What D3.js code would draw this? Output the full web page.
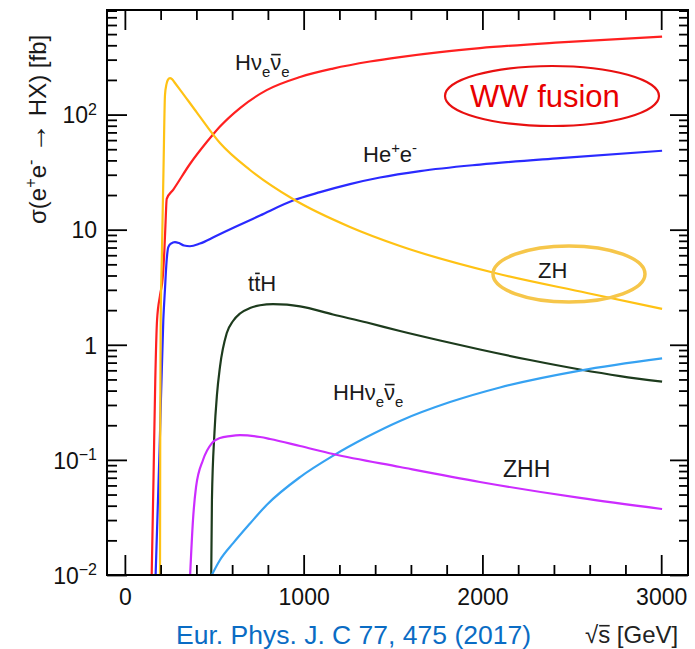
<!DOCTYPE html>
<html>
<head>
<meta charset="utf-8">
<script src="https://cdn.jsdelivr.net/npm/d3@7"></script>
<style>
  body { margin: 0; background: #fff; }
  svg { display: block; }
  text { font-family: "Liberation Sans", Arial, sans-serif; }
</style>
</head>
<body>
<svg id="chart" width="695" height="649"></svg>
<script>
// ---- Cross sections sigma(e+e- -> HX) in fb versus sqrt(s) in GeV ----
const hnnE   = [150, 160, 170, 180, 197, 212, 221, 227, 234, 271, 364, 458, 493, 532, 644, 793, 980, 1164, 1371, 1539, 1763, 1986, 2434, 3005];
const hnnXS  = [0.01, 0.067, 0.49, 1.64, 2.71, 3.88, 6.65, 11.0, 18.5, 22.3, 37.2, 57.7, 67.1, 78.7, 114, 163, 212, 251, 289, 316, 349, 378, 424, 475];

const heeE   = [172, 194, 215, 224, 233, 243, 258, 280, 303, 331, 364, 420, 504, 616, 756, 940, 1092, 1259, 1427, 1651, 1986, 2434, 3005];
const heeXS  = [0.01, 0.122, 1.64, 2.99, 5.24, 7.06, 7.58, 7.81, 7.65, 7.28, 7.18, 7.58, 8.72, 10.55, 13.27, 17.9, 21.2, 24.9, 28.4, 32.3, 36.8, 41.9, 48.5];

const zhE    = [196.5, 197.6, 199.8, 207.6, 216, 224.4, 232.8, 241.2, 252.4, 263.6, 280.4, 308, 403, 532, 700, 940, 1259, 1539, 2070, 2585, 3005];
const zhXS   = [0.01, 0.122, 1.34, 6.65, 33.0, 148, 184, 201, 207.5, 203.5, 188, 165, 104, 56.6, 33.0, 18.45, 10.55, 7.21, 4.20, 2.82, 2.05];

const tthE   = [483, 487, 501, 515, 532, 570, 605, 644, 700, 756, 829, 907, 980, 1164, 1354, 1539, 1763, 1986, 2266, 2546, 2770, 3005];
const tthXS  = [0.01, 0.045, 0.171, 0.366, 0.644, 1.265, 1.61, 1.87, 2.085, 2.206, 2.259, 2.233, 2.158, 1.832, 1.56, 1.317, 1.089, 0.910, 0.737, 0.610, 0.535, 0.478];

const hhnnE  = [486, 532, 607, 700, 793, 980, 1166, 1353, 1539, 1819, 2098, 2546, 3005];
const hhnnXS = [0.01, 0.0135, 0.019, 0.028, 0.0406, 0.0709, 0.109, 0.158, 0.218, 0.318, 0.426, 0.597, 0.762];

const zhhE   = [365, 381, 398, 437, 487, 532, 588, 644, 756, 812, 980, 1165, 1539, 1986, 2546, 3005];
const zhhXS  = [0.01, 0.030, 0.058, 0.0998, 0.140, 0.155, 0.161, 0.164, 0.158, 0.152, 0.132, 0.1125, 0.0867, 0.0643, 0.0467, 0.0374];

// ---- Axis ticks and labels ----
const xMajorTicks = [0, 1000, 2000, 3000];
const xTickLabels = ["0", "1000", "2000", "3000"];
const yMajorTicks = [0.01, 0.1, 1, 10, 100];
const yTickBase   = ["10", "10", "1", "10", "10"];
const yTickExp    = ["\u22122", "\u22121", "", "", "2"];

// ---- Styling ----
const seriesStyle = [
  { e: hnnE,  xs: hnnXS,  color: "#ff2020" },
  { e: heeE,  xs: heeXS,  color: "#2a2aff" },
  { e: zhE,   xs: zhXS,   color: "#ffc214" },
  { e: tthE,  xs: tthXS,  color: "#1d3b1d" },
  { e: hhnnE, xs: hhnnXS, color: "#36a2f2" },
  { e: zhhE,  xs: zhhXS,  color: "#cc2cff" }
];

const svg = d3.select("#chart");
const frame = { l: 107, r: 688, t: 10, b: 575 };

const x = d3.scaleLinear().domain([-100, 3150]).range([frame.l, frame.r]);
const y = d3.scaleLog().domain([0.01, 810]).range([frame.b, frame.t]);

// minor tick positions
const xMinorTicks = d3.range(0, 3001, 200).filter(v => v % 1000 !== 0);
const yMinorTicks = [];
for (let dec = 0.01; dec < 1000; dec *= 10) {
  for (let k = 2; k <= 9; k++) {
    const v = +(dec * k).toPrecision(3);
    if (v <= 810) yMinorTicks.push(v);
  }
}

svg.append("defs").append("clipPath").attr("id", "plotClip")
  .append("rect")
  .attr("x", frame.l).attr("y", frame.t)
  .attr("width", frame.r - frame.l).attr("height", frame.b - frame.t);

// ---- Curves ----
const line = d3.line()
  .x(d => x(d[0]))
  .y(d => y(d[1]))
  .curve(d3.curveMonotoneX);

const curves = svg.append("g").attr("clip-path", "url(#plotClip)");
seriesStyle.forEach(s => {
  const pts = s.e.map((e, i) => [e, s.xs[i]]);
  curves.append("path")
    .datum(pts)
    .attr("d", line)
    .attr("fill", "none")
    .attr("stroke", s.color)
    .attr("stroke-width", 2.2)
    .attr("stroke-linejoin", "round");
});

// ---- Axes ----
function styleAxis(g) {
  g.select(".domain").remove();
  g.selectAll(".tick line").attr("stroke", "#000").attr("stroke-width", 1.8);
  g.selectAll(".tick text").attr("fill", "#111").attr("font-size", 23)
    .attr("font-family", "'Liberation Sans', Arial, sans-serif");
}

svg.append("g").attr("transform", `translate(0,${frame.b})`)
  .call(d3.axisBottom(x).tickValues(xMajorTicks).tickSizeInner(-20).tickSizeOuter(0)
    .tickPadding(14).tickFormat((d, i) => xTickLabels[i]))
  .call(styleAxis);
svg.append("g").attr("transform", `translate(0,${frame.b})`)
  .call(d3.axisBottom(x).tickValues(xMinorTicks).tickSizeInner(-10).tickSizeOuter(0).tickFormat(""))
  .call(styleAxis);
svg.append("g").attr("transform", `translate(0,${frame.t})`)
  .call(d3.axisTop(x).tickValues(xMajorTicks).tickSizeInner(-20).tickSizeOuter(0).tickFormat(""))
  .call(styleAxis);
svg.append("g").attr("transform", `translate(0,${frame.t})`)
  .call(d3.axisTop(x).tickValues(xMinorTicks).tickSizeInner(-10).tickSizeOuter(0).tickFormat(""))
  .call(styleAxis);

const leftMajor = svg.append("g").attr("transform", `translate(${frame.l},0)`)
  .call(d3.axisLeft(y).tickValues(yMajorTicks).tickSizeInner(-20).tickSizeOuter(0)
    .tickPadding(10).tickFormat((d, i) => yTickBase[i]))
  .call(styleAxis);
leftMajor.selectAll(".tick text").each(function(d, i) {
  const t = d3.select(this);
  t.attr("dy", "0.36em");
  if (yTickExp[i]) {
    t.text(null);
    t.append("tspan").text(yTickBase[i]);
    t.append("tspan").attr("font-size", 16).attr("dy", "-0.55em").text(yTickExp[i]);
  }
});
svg.append("g").attr("transform", `translate(${frame.l},0)`)
  .call(d3.axisLeft(y).tickValues(yMinorTicks).tickSizeInner(-10).tickSizeOuter(0).tickFormat(""))
  .call(styleAxis);
svg.append("g").attr("transform", `translate(${frame.r},0)`)
  .call(d3.axisRight(y).tickValues(yMajorTicks).tickSizeInner(-18).tickSizeOuter(0).tickFormat(""))
  .call(styleAxis);
svg.append("g").attr("transform", `translate(${frame.r},0)`)
  .call(d3.axisRight(y).tickValues(yMinorTicks).tickSizeInner(-9).tickSizeOuter(0).tickFormat(""))
  .call(styleAxis);

// frame
svg.append("rect")
  .attr("x", frame.l).attr("y", frame.t)
  .attr("width", frame.r - frame.l).attr("height", frame.b - frame.t)
  .attr("fill", "none").attr("stroke", "#000").attr("stroke-width", 2);

// ---- Rich text helper: subscripts, superscripts and overbars ----
function richText(parent, px, py, size, parts, opts = {}) {
  const t = parent.append("text")
    .attr("x", px).attr("y", py)
    .attr("font-size", size)
    .attr("fill", opts.fill || "#1a1a1a");
  if (opts.transform) t.attr("transform", opts.transform);
  let shift = 0;
  let idx = 0;
  const bars = [];
  parts.forEach(p => {
    let target = 0;
    if (p.sub) target = size * 0.32;
    if (p.sup) target = -size * 0.42;
    const ts = t.append("tspan").text(p.t);
    if (target !== shift) { ts.attr("dy", target - shift); shift = target; }
    if (p.sub || p.sup) ts.attr("font-size", size * 0.68);
    if (p.size) ts.attr("font-size", p.size);
    if (p.bar) bars.push({ start: idx, n: p.t.length, h: p.barH || 0.72 });
    idx += p.t.length;
  });
  const node = t.node();
  bars.forEach(b => {
    const a = node.getExtentOfChar(b.start);
    const z = node.getExtentOfChar(b.start + b.n - 1);
    parent.append("line")
      .attr("x1", a.x + 1).attr("x2", z.x + z.width - 0.5)
      .attr("y1", py - size * b.h).attr("y2", py - size * b.h)
      .attr("stroke", opts.fill || "#1a1a1a").attr("stroke-width", 1.6)
      .attr("transform", opts.transform || null);
  });
  return t;
}

const labels = svg.append("g");
richText(labels, 235, 70, 22, [{ t: "H" }, { t: "\u03bd" }, { t: "e", sub: true }, { t: "\u03bd", bar: true, barH: 0.7 }, { t: "e", sub: true }]);
richText(labels, 363, 162, 22, [{ t: "He" }, { t: "+", sup: true }, { t: "e" }, { t: "-", sup: true }]);
richText(labels, 248, 291, 22, [{ t: "t" }, { t: "t", bar: true, barH: 0.8 }, { t: "H" }]);
richText(labels, 333, 400, 22, [{ t: "HH" }, { t: "\u03bd" }, { t: "e", sub: true }, { t: "\u03bd", bar: true, barH: 0.7 }, { t: "e", sub: true }]);
richText(labels, 538, 278, 22, [{ t: "ZH" }]);
richText(labels, 503, 477, 23, [{ t: "ZHH" }]);

// process group highlights
svg.append("ellipse")
  .attr("cx", 552).attr("cy", 96).attr("rx", 107).attr("ry", 30)
  .attr("fill", "none").attr("stroke", "#e81010").attr("stroke-width", 2.2);
svg.append("text").attr("x", 470).attr("y", 107)
  .attr("font-size", 31).attr("fill", "#e80000").text("WW fusion");

svg.append("ellipse")
  .attr("cx", 569).attr("cy", 274).attr("rx", 76).attr("ry", 28)
  .attr("fill", "none").attr("stroke", "#f6c64a").attr("stroke-width", 3.5);

// ---- Axis titles ----
richText(svg, 0, 0, 24,
  [{ t: "\u03c3(e" }, { t: "+", sup: true }, { t: "e" }, { t: "-", sup: true }, { t: " " }, { t: "\u2192", size: 30 }, { t: " HX) [fb]" }],
  { transform: "translate(46,224) rotate(-90)", fill: "#1a1a1a" });

richText(svg, 585, 643, 24, [{ t: "\u221a" }, { t: "s", bar: true, barH: 0.72 }, { t: " [GeV]" }], { fill: "#222" });

svg.append("text").attr("x", 176).attr("y", 644)
  .attr("font-size", 26.5).attr("fill", "#0a6cc4")
  .text("Eur. Phys. J. C 77, 475 (2017)");
</script>
</body>
</html>
